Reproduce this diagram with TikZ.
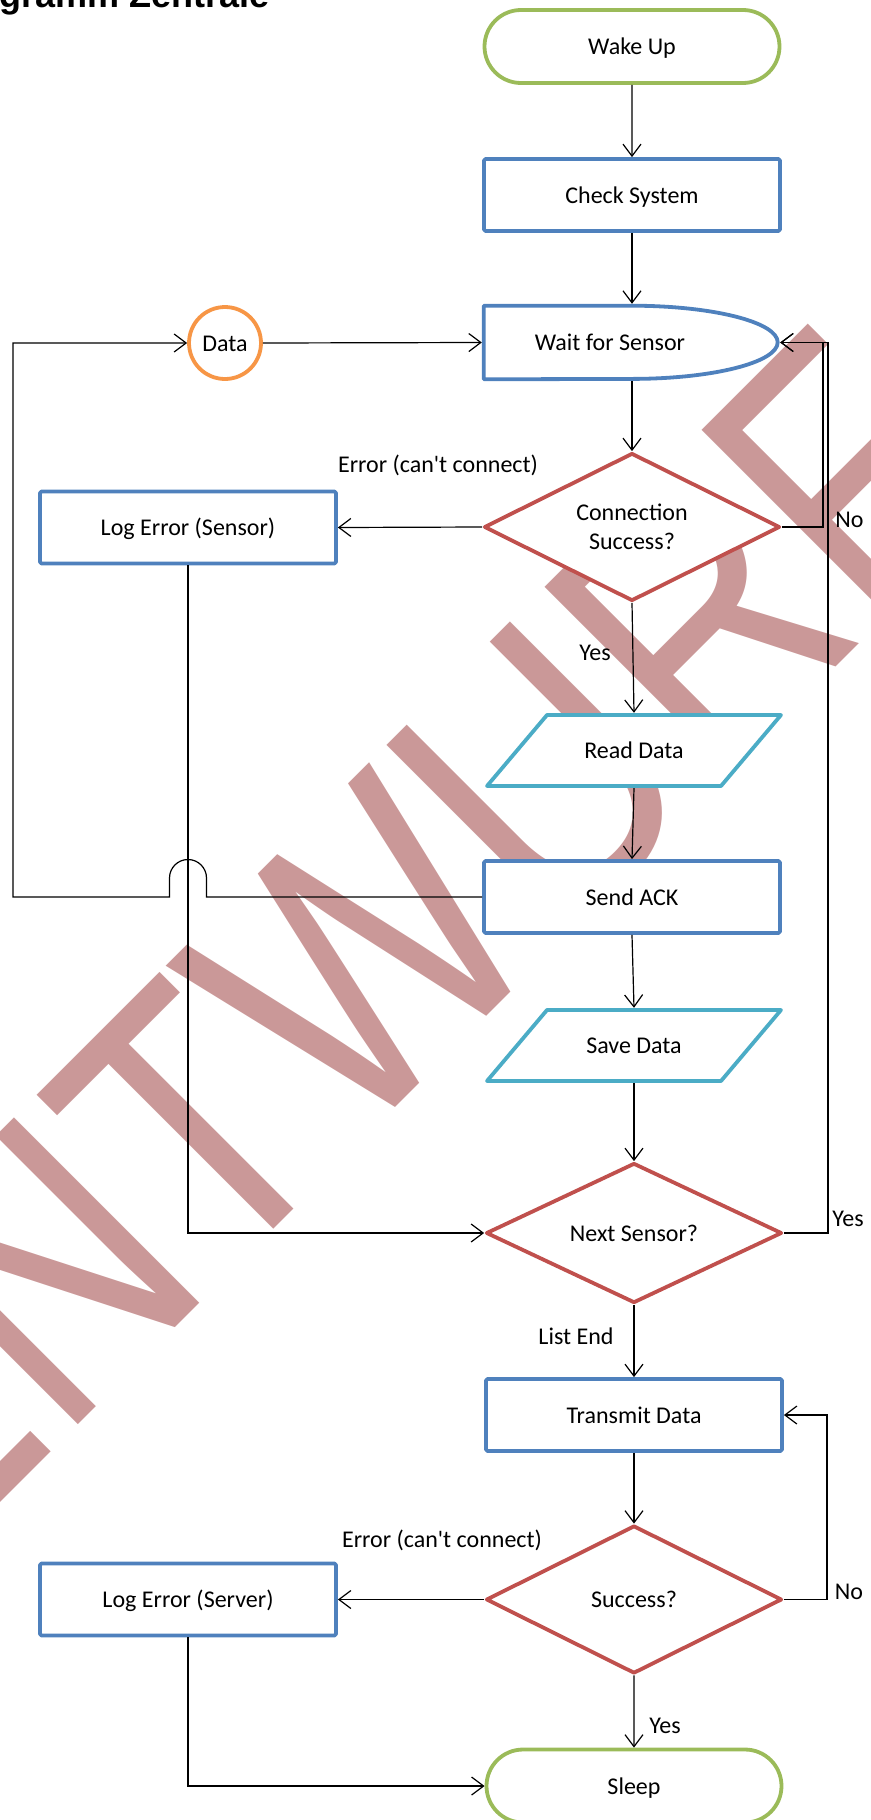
\documentclass[tikz,border=0pt]{standalone}
\usepackage{fontspec}
\setmainfont{Carlito}
\newfontfamily\arialfont{Liberation Sans}
\usetikzlibrary{arrows.meta,shapes.geometric,shapes.misc,calc}

\definecolor{procblue}{RGB}{79,129,189}
\definecolor{decred}{RGB}{192,80,77}
\definecolor{termgreen}{RGB}{155,187,89}
\definecolor{ioteal}{RGB}{75,172,198}
\definecolor{connorange}{RGB}{247,150,70}
\definecolor{wmpink}{RGB}{202,152,152}

% slanted input/output outline around a centre point
\newcommand\iooutline[1]{%
  \draw[shapebase, draw=ioteal] ($(#1)+(-87,-35.5)$) -- ++(234,0)
    -- ++(-60,71) -- ++(-234,0) -- cycle;}

\begin{document}
\begin{tikzpicture}[x=1pt,y=-1pt,
  every node/.style={font=\fontsize{24}{29}\selectfont, inner sep=0pt},
  oneline/.style={text height=16.5pt, text depth=0pt},
  shapebase/.style={line width=3.8pt, fill=white, line join=round},
  procbox/.style={shapebase, oneline, draw=procblue, rectangle, rounded corners=1.5pt,
    minimum width=296pt, minimum height=72pt},
  termbox/.style={shapebase, oneline, draw=termgreen, rounded rectangle,
    minimum width=295pt, minimum height=73pt},
  decbox/.style={shapebase, draw=decred, diamond, aspect=2,
    minimum width=296pt, minimum height=148pt, align=center},
  iobox/.style={oneline, minimum width=234pt, minimum height=75pt},
  connbox/.style={shapebase, oneline, draw=connorange, circle, minimum size=72pt},
  wire/.style={line width=1.2pt},
  flow/.style={wire, -{Straight Barb[length=12pt,width=18pt,line width=1.2pt]}},
  lbl/.style={anchor=base},
]
\useasboundingbox (0,0) rectangle (870,1820);

% draft watermark behind everything
\node[text=wmpink, font=\arialfont\fontsize{381}{381}\selectfont,
  rotate=45, xscale=0.807] (wm) at (368,953) {ENTWURF};

% title, partly outside the page
\node[font=\arialfont\bfseries\fontsize{36}{36}\selectfont, anchor=base west]
  (title) at (-1,8) {gramm Zentrale};

% nodes
\node[termbox] (wake) at (632,46.5) {Wake Up};
\node[procbox] (check) at (632,195) {Check System};

\node[minimum width=298pt, minimum height=77pt] (wait) at (631,342.5) {};
\draw[shapebase, draw=procblue]
  ($(wait.north west)+(1.9,1.9)$) -- ++(148,0)
  arc[start angle=90, end angle=-90, x radius=146pt, y radius=36.6pt]
  -- ($(wait.south west)+(1.9,-1.9)$) -- cycle;
\node[oneline] (waitlbl) at (610,342.5) {Wait for Sensor};

\node[connbox] (data) at (225,343) {Data};
\node[decbox] (cond1) at (632,527) {Connection\\Success?};
\node[procbox] (errS) at (188,527.5) {Log Error (Sensor)};

\coordinate (readc) at (634,750.5);
\iooutline{readc}
\node[iobox] (read) at (readc) {Read Data};

\node[procbox] (ack) at (632,897) {Send ACK};

\coordinate (savec) at (634,1045.5);
\iooutline{savec}
\node[iobox] (save) at (savec) {Save Data};

\node[decbox, oneline, minimum height=140pt] (cond2) at (634,1233) {Next Sensor?};
\node[procbox] (tx) at (634,1415) {Transmit Data};
\node[decbox, oneline] (cond3) at (634,1599.5) {Success?};
\node[procbox] (errV) at (188,1599.5) {Log Error (Server)};
\node[termbox] (sleep) at (634,1786) {Sleep};

% main flow
\draw[flow] (wake) -- (check);
\draw[flow] (check.south) -- (check.south |- wait.north);
\draw[flow] (cond1.north |- wait.south) -- (cond1.north);
\draw[flow] (cond1.south) -- (read.north);
\draw[flow] (read.south) -- (ack.north);
\draw[flow] (ack.south) -- (save.north);
\draw[flow] (save) -- (cond2);
\draw[flow] (cond2) -- (tx);
\draw[flow] (tx) -- (cond3);
\draw[flow] (cond3) -- (sleep);

% branches
\draw[flow] (data.east) -- (wait.west);
\draw[flow] (cond1.west) -- (errS.east);
\draw[flow] (cond3.west) -- (errV.east);
\draw[flow] (cond1.east) -- ++(41,0) |- (wait.east);
\draw[flow] (cond2.east) -- ++(44,0) |- (wait.east);
\draw[flow] (cond3.east) -- ++(43,0) |- (tx.east);
\draw[flow] (errS.south) |- (cond2.west);
\draw[flow] (errV.south) |- (sleep.west);

% Send ACK back to Data, hopping over the Log Error line
\coordinate (loopcorner) at (13,897);
\draw[flow] (ack.west) -- ($(ack.west -| errS.south)+(18.5,0)$) -- ++(0,-19)
  arc[start angle=0, end angle=180, radius=18.5pt] -- ++(0,19)
  -- (loopcorner) |- (data.west);

% labels
\node[lbl] (l1) at (438,472) {Error (can\textquotesingle t connect)};
\node[lbl] (l2) at (849.5,527) {No};
\node[lbl] (l3) at (595,660) {Yes};
\node[lbl] (l4) at (848,1226) {Yes};
\node[lbl] (l5) at (576,1344) {List End};
\node[lbl] (l6) at (442,1547) {Error (can\textquotesingle t connect)};
\node[lbl] (l7) at (849,1599) {No};
\node[lbl] (l8) at (665,1733) {Yes};
\end{tikzpicture}
\end{document}
